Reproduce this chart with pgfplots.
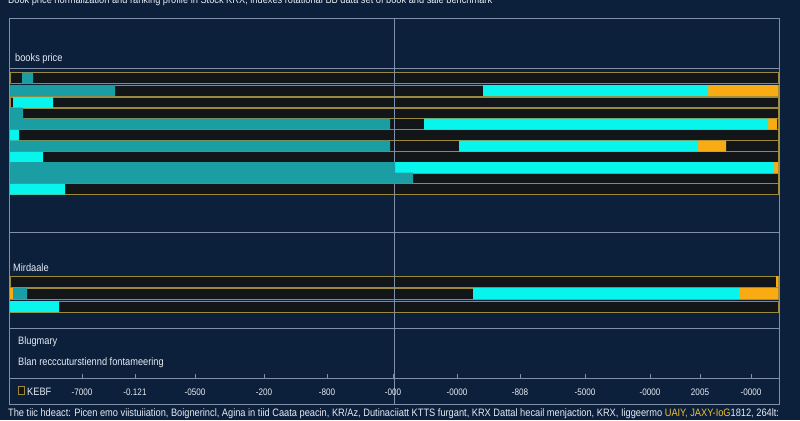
\documentclass[border=0pt]{standalone}
\usepackage{pgfplots}
\pgfplotsset{compat=1.18}
\usepackage{pgfplotstable}
\usepackage{fontspec}
\setmainfont{Liberation Sans}[FakeStretch=0.86]

\definecolor{bg}{HTML}{0C1F3B}
\definecolor{linec}{HTML}{8090A8}
\definecolor{track}{HTML}{121619}
\definecolor{goldl}{HTML}{9C8A3C}
\definecolor{tealc}{HTML}{1B9EA3}
\definecolor{cyanc}{HTML}{08F5EE}
\definecolor{orangec}{HTML}{F8AB12}
\definecolor{txt}{HTML}{E6ECF3}
\definecolor{yel}{HTML}{F2C230}

% y = row centre (picture y from bottom), widths of each segment
\pgfplotstableread{
y     d0 oa teal da  cyan orb db
342   12 0  11   745 0    0   0
329.5 0  0  105  368 225  70  0
317.5 3  0  0    0   40   0   725
307   0  0  13   755 0    0   0
296   0  0  380  34  344  9   1
285   0  0  0    0   9    0   759
274   0  0  380  69  239  28  52
263   0  0  0    0   33   0   735
252.5 0  0  385  0   379  4   0
242   0  0  403  365 0    0   0
231   0  0  0    0   55   0   713
138.5 0  0  0    766 0    2   0
126.5 0  3  14   446 266  39  0
113.5 0  0  0    0   49   0   719
}\segs

\pgfplotsset{
  base/.style={
    at={(10bp,42bp)}, anchor=south west,
    width=768bp, height=310bp, scale only axis,
    xmin=0, xmax=768, ymin=42, ymax=352,
    enlargelimits=false, clip=false,
  },
}

\begin{document}
\begin{tikzpicture}[x=1bp,y=1bp]
\useasboundingbox (0,0) rectangle (800,420);
\fill[bg] (0,0) rectangle (800,420);

% title, only its lower part shows
\node[anchor=base west, inner sep=0, text=txt, font=\fontsize{10.8}{12}\selectfont] at (8,416)
  {Book price normalization and ranking profile in Stock KRX, indexes rotational BB data set of book and sale benchmark};

% frame and separators
\draw[linec, line width=0.7pt] (9,16) rectangle (779,402);
\foreach \yy in {352,188,92,42}
  \draw[linec, line width=0.6pt] (9,\yy) -- (779,\yy);

% tracks
\begin{axis}[base, hide axis]
\addplot[xbar, bar width=11, fill=track, draw=goldl, line width=0.6pt]
  table[x expr=768, y=y] {\segs};
\end{axis}

\draw[linec, line width=0.6pt] (394,16) -- (394,402);

% segments
\begin{axis}[base,
  xbar stacked, bar width=11,
  axis y line=none, axis x line*=bottom,
  x axis line style={draw=none},
  xtick={72,125,185,254,317,383,447,510,575,640,690,741},
  xticklabels={-7000,-0.121,-0500,-200,-800,-000,-0000,-808,-5000,-0000,2005,-0000},
  tick align=inside, major tick length=4bp,
  tick style={linec, line width=0.5pt},
  /pgf/number format/assume math mode=true,
  xticklabel style={anchor=base, yshift=-17bp, text=txt, font=\fontsize{9.5}{10}\selectfont},
]
\addplot[draw=none, fill=none] table[x=d0, y=y] {\segs};
\addplot[draw=none, fill=orangec] table[x=oa, y=y] {\segs};
\addplot[draw=none, fill=tealc] table[x=teal, y=y] {\segs};
\addplot[draw=none, fill=none] table[x=da, y=y] {\segs};
\addplot[draw=none, fill=cyanc] table[x=cyan, y=y] {\segs};
\addplot[draw=none, fill=orangec] table[x=orb, y=y] {\segs};
\addplot[draw=none, fill=none] table[x=db, y=y] {\segs};
\end{axis}

% group labels
\begin{scope}[every node/.style={anchor=base west, inner sep=0, text=txt, font=\fontsize{10.8}{12}\selectfont}]
\node at (15,359) {books price};
\node at (13,149) {Mirdaale};
\node at (18,76) {Blugmary};
\node at (18,55) {Blan recccuturstiennd fontameering};
\node at (27,25) {KEBF};
\end{scope}
\draw[goldl, fill=track, line width=0.6pt] (18,26) rectangle (24,34);

% footer
\node[anchor=base west, inner sep=0, text=txt, font=\fontsize{10.8}{12}\selectfont] at (8,4)
  {The tiic hdeact: Picen emo viistuiiation, Boignerincl, Agina in tiid Caata peacin, KR/Az, Dutinaciiatt KTTS furgant, KRX Dattal hecail menjaction, KRX, Iiggeermo \textcolor{yel}{UAIY, JAXY-IoG}1812, 264lt:};
\end{tikzpicture}
\end{document}
